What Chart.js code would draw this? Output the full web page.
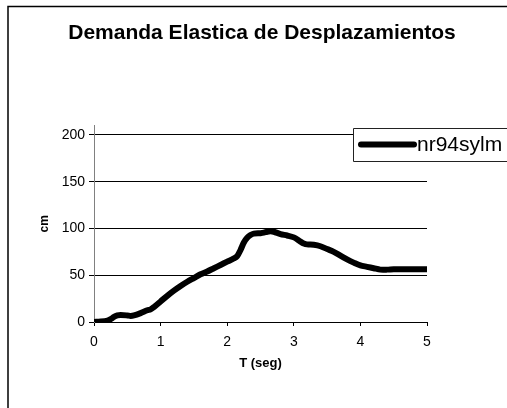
<!DOCTYPE html>
<html>
<head>
<meta charset="utf-8">
<script src="https://cdn.jsdelivr.net/npm/chart.js@4.4.1/dist/chart.umd.min.js"></script>
<style>
    html, body { margin: 0; padding: 0; background: #fff; overflow: hidden; }
    #wrap { width: 507px; height: 408px; }
</style>
</head>
<body>
<div id="wrap"><canvas id="demandChart" width="507" height="408"></canvas></div>
<script>
// periodo T (seg) y desplazamiento (cm)
const periods = [0, 0.1, 0.2, 0.25, 0.3, 0.35, 0.4, 0.5, 0.55, 0.6, 0.7, 0.8, 0.85, 0.9,
    1.0, 1.1, 1.2, 1.3, 1.4, 1.5, 1.6, 1.7, 1.8, 1.9, 2.0, 2.1, 2.15, 2.2, 2.25, 2.3,
    2.35, 2.4, 2.5, 2.55, 2.6, 2.65, 2.7, 2.8, 2.9, 3.0, 3.1, 3.15, 3.2, 3.3, 3.4, 3.5,
    3.6, 3.7, 3.8, 3.9, 4.0, 4.1, 4.2, 4.3, 4.4, 4.5, 4.6, 4.8, 5.0];
const displacements = [0, 0.5, 1.5, 3, 5.5, 7, 7.5, 7, 6.5, 7, 9.5, 12.5, 13.5, 16,
    22, 28, 33.5, 38.5, 43, 47, 51, 54, 57.5, 61, 64.5, 68, 70.5, 77, 85, 90,
    93, 94.5, 95, 95.5, 96.5, 97, 96.5, 94, 92.5, 90.5, 86, 84, 83, 82.5, 81, 78,
    75, 71, 67, 63.5, 60.5, 59, 57.5, 56, 56, 56.5, 56.5, 56.5, 56.5];
const seriesName = 'nr94sylm';
const yTicks = [0, 50, 100, 150, 200];
const xTicks = [0, 1, 2, 3, 4, 5];

const points = periods.map((t, i) => ({ x: t, y: displacements[i] }));

const FONT = "'Liberation Sans', Arial, sans-serif";

// marco exterior: solo se ven el borde izquierdo y el superior
const framePlugin = {
    id: 'frame',
    beforeDraw(chart) {
        const ctx = chart.ctx;
        ctx.save();
        ctx.strokeStyle = '#000';
        ctx.lineWidth = 1.5;
        ctx.beginPath();
        ctx.moveTo(8, chart.height);
        ctx.lineTo(8, 6.5);
        ctx.lineTo(chart.width, 6.5);
        ctx.stroke();
        ctx.restore();
    }
};

// leyenda con recuadro, sobre la zona de trazado (cortada a la derecha)
const boxLegend = {
    id: 'boxLegend',
    afterDraw(chart) {
        const ctx = chart.ctx;
        const ds = chart.data.datasets[0];
        ctx.save();
        ctx.fillStyle = '#fff';
        ctx.fillRect(353.5, 128.5, chart.width, 33);
        ctx.strokeStyle = '#222';
        ctx.lineWidth = 1;
        ctx.beginPath();
        ctx.moveTo(chart.width, 128.5);
        ctx.lineTo(353.5, 128.5);
        ctx.lineTo(353.5, 161.5);
        ctx.lineTo(chart.width, 161.5);
        ctx.stroke();
        ctx.strokeStyle = ds.borderColor;
        ctx.lineWidth = 6;
        ctx.lineCap = 'round';
        ctx.beginPath();
        ctx.moveTo(361, 144.5);
        ctx.lineTo(414, 144.5);
        ctx.stroke();
        ctx.fillStyle = '#000';
        ctx.font = '21px ' + FONT;
        ctx.textBaseline = 'middle';
        ctx.fillText(ds.label, 417, 145);
        ctx.restore();
    }
};

new Chart(document.getElementById('demandChart').getContext('2d'), {
    type: 'line',
    data: {
        datasets: [{
            label: seriesName,
            data: points,
            borderColor: '#000',
            borderWidth: 6,
            pointRadius: 0,
            tension: 0.3,
            borderJoinStyle: 'round',
            fill: false
        }]
    },
    options: {
        responsive: false,
        animation: false,
        layout: { padding: { left: 17, right: 0, top: 0, bottom: 0 } },
        plugins: {
            legend: { display: false },
            tooltip: { enabled: false },
            title: {
                display: true,
                text: 'Demanda Elastica de Desplazamientos',
                color: '#000',
                font: { family: FONT, size: 21, weight: 'bold' },
                padding: { top: 20.4, bottom: 80 }
            }
        },
        scales: {
            x: {
                type: 'linear',
                min: 0,
                max: 5,
                afterBuildTicks: (s) => { s.ticks = xTicks.map(v => ({ value: v })); },
                afterFit: (s) => { s.height = 86; },
                grid: { drawOnChartArea: false, color: '#000', tickLength: 4 },
                border: { color: '#000', width: 1 },
                ticks: { color: '#000', padding: 8, font: { family: FONT, size: 14 } },
                title: {
                    display: true,
                    text: 'T (seg)',
                    color: '#000',
                    font: { family: FONT, size: 13, weight: 'bold' },
                    padding: { top: 0, bottom: 37 }
                }
            },
            y: {
                min: 0,
                max: 210,
                afterBuildTicks: (s) => { s.ticks = yTicks.map(v => ({ value: v })); },
                afterFit: (s) => { s.width = 77; },
                grid: { color: '#000', tickLength: 5 },
                border: { color: '#808080', width: 1 },
                ticks: { color: '#000', padding: 4, font: { family: FONT, size: 14 } },
                title: {
                    display: true,
                    text: 'cm',
                    color: '#000',
                    font: { family: FONT, size: 12, weight: 'bold' },
                    padding: { top: 20, bottom: 0 }
                }
            },
            // espacio vacio a la derecha del area de trazado
            yRight: {
                position: 'right',
                min: 0,
                max: 210,
                afterFit: (s) => { s.width = 80; },
                grid: { display: false },
                border: { display: false },
                ticks: { display: false }
            }
        }
    },
    plugins: [framePlugin, boxLegend]
});
</script>
</body>
</html>
